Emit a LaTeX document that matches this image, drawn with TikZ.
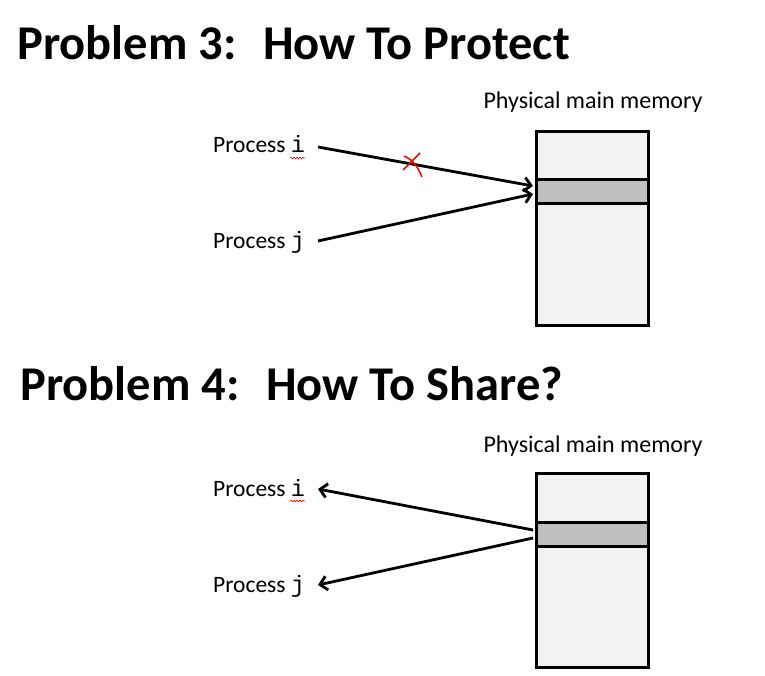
\documentclass[tikz,border=0pt]{standalone}
\usepackage{fontspec}
\setmainfont{Carlito}
\newfontfamily\monof{Liberation Mono}
\usetikzlibrary{arrows.meta,decorations.pathmorphing,calc}
\definecolor{memfill}{RGB}{242,242,242}
\definecolor{bandfill}{RGB}{191,191,191}
\tikzset{
  title/.style={anchor=base west,inner sep=0pt,font=\fontsize{48.5}{52}\selectfont\bfseries},
  proc/.style={anchor=base west,inner sep=0pt,font=\fontsize{23.5}{27}\selectfont},
  memlabel/.style={anchor=base,inner sep=0pt,font=\fontsize{24}{28}\selectfont},
  membox/.style={draw,line width=2.8pt,fill=memfill,minimum width=112pt,minimum height=194pt,inner sep=0pt,anchor=north west},
  band/.style={draw,line width=2.8pt,fill=bandfill,minimum width=112pt,minimum height=24pt,inner sep=0pt,anchor=north west},
  conn/.style={line width=2.8pt,-{Straight Barb[length=7pt,width=14pt,line width=2.8pt]}},
  squig/.style={red,line width=0.6pt,decorate,decoration={snake,amplitude=0.8pt,segment length=3pt}},
  cross/.style={red,line width=1.5pt}
}
\begin{document}
\begin{tikzpicture}[x=1pt,y=-1pt]
\useasboundingbox (0,0) rectangle (765,676);
% Problem 3
\node[title] (t3) at (17,60) {Problem 3:\hspace{0.25em} How To Protect};
\node[memlabel] (ml1) at (593,109) {Physical main memory};
\node[membox] (m1) at (535,130) {};
\node[band] (b1) at (535,178) {};
\node[proc] (pi1) at (213,153) {Process {\monof i}};
\node[proc] (pj1) at (213,249) {Process {\monof j}};
\coordinate (ai1) at (318,147);
\coordinate (aj1) at (318,241);
\coordinate (e1) at (533,186);
\coordinate (e2) at (533,194);
\draw[conn] (ai1) -- (e1);
\draw[conn] (aj1) -- (e2);
\draw[squig] ($(pi1.base east)+(-15,5)$) -- ($(pi1.base east)+(0,5)$);
% red cross
\draw[cross] (403,170) -- (420,153);
\draw[cross] (404,156) .. controls (414,160) and (418,168) .. (422,177);
% Problem 4
\node[title] (t4) at (20,400) {Problem 4:\hspace{0.25em} How To Share?};
\node[memlabel] (ml2) at (593,452) {Physical main memory};
\node[membox] (m2) at (535,472) {};
\node[band] (b2) at (535,521) {};
\node[proc] (pi2) at (213,496) {Process {\monof i}};
\node[proc] (pj2) at (213,592) {Process {\monof j}};
\coordinate (s1) at (533,530);
\coordinate (s2) at (533,538);
\coordinate (ai2) at (318,489);
\coordinate (aj2) at (318,585);
\draw[conn] (s1) -- (ai2);
\draw[conn] (s2) -- (aj2);
\draw[squig] ($(pi2.base east)+(-15,5)$) -- ($(pi2.base east)+(0,5)$);
\end{tikzpicture}
\end{document}
